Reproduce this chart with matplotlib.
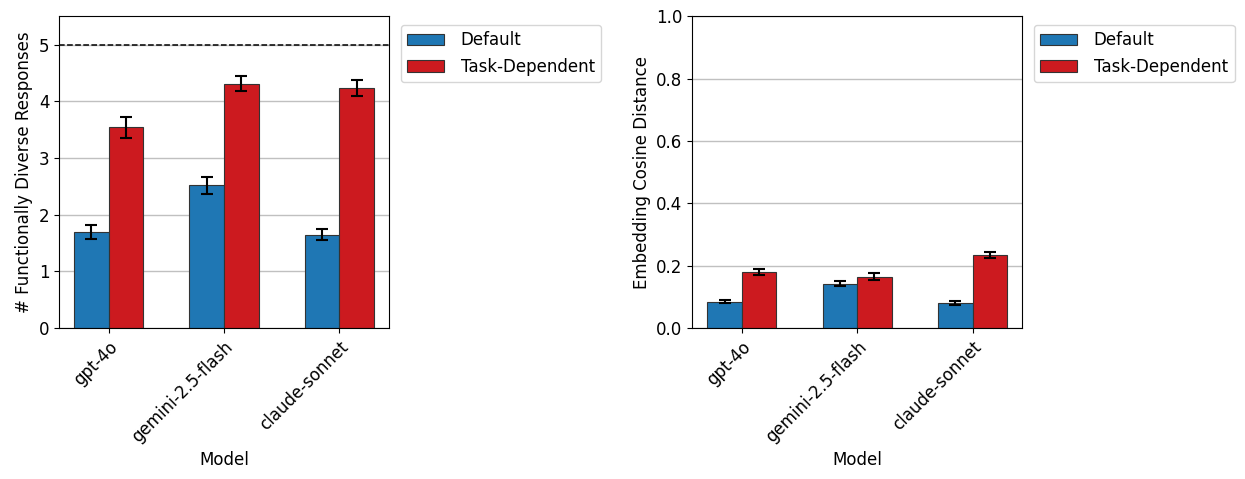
import numpy as np
import matplotlib
matplotlib.use("Agg")
import matplotlib.pyplot as plt

modelos = ["gpt-4o", "gemini-2.5-flash", "claude-sonnet"]
series = ["Default", "Task-Dependent"]

# functionally diverse responses (max 5)
diversos_default = [1.69, 2.52, 1.65]
diversos_default_err = [0.12, 0.15, 0.10]
diversos_task = [3.54, 4.31, 4.23]
diversos_task_err = [0.18, 0.13, 0.14]

# embedding cosine distance
cosseno_default = [0.085, 0.143, 0.081]
cosseno_default_err = [0.006, 0.009, 0.006]
cosseno_task = [0.181, 0.165, 0.234]
cosseno_task_err = [0.010, 0.012, 0.009]

cores = ["#1f77b4", "#cc1a1f"]
largura = 0.3

plt.rcParams["font.size"] = 12


def desenhar(ax, default, default_err, task, task_err, ylim, limite, ylabel):
    x = np.arange(len(modelos))
    ax.set_axisbelow(True)
    ax.yaxis.grid(True, color="#c0c0c0", linewidth=1)
    ax.bar(x - largura / 2, default, largura, yerr=default_err, color=cores[0],
           edgecolor="#333333", linewidth=0.8, label=series[0],
           error_kw=dict(ecolor="black", elinewidth=1.5, capsize=4, capthick=1.5))
    ax.bar(x + largura / 2, task, largura, yerr=task_err, color=cores[1],
           edgecolor="#333333", linewidth=0.8, label=series[1],
           error_kw=dict(ecolor="black", elinewidth=1.5, capsize=4, capthick=1.5))
    ax.axhline(limite, color="black", linestyle="--", linewidth=1.1)
    ax.set_ylim(*ylim)
    ax.set_xticks(x)
    ax.set_xticklabels(modelos, rotation=45, ha="right", rotation_mode="anchor")
    ax.set_xlabel("Model")
    ax.set_ylabel(ylabel)
    ax.legend(loc="upper left", bbox_to_anchor=(1.01, 1.0), fontsize=12,
              handlelength=2.2, handletextpad=1.0)


fig = plt.figure(figsize=(12.45, 4.79), dpi=100)
ax1 = fig.add_axes([0.0474, 0.315, 0.265, 0.651])
ax2 = fig.add_axes([0.556, 0.315, 0.265, 0.651])

desenhar(ax1, diversos_default, diversos_default_err, diversos_task, diversos_task_err,
         (0, 5.5), 5, "# Functionally Diverse Responses")
desenhar(ax2, cosseno_default, cosseno_default_err, cosseno_task, cosseno_task_err,
         (0, 1.0), 1.0, "Embedding Cosine Distance")

plt.savefig("out.png", dpi=100)
